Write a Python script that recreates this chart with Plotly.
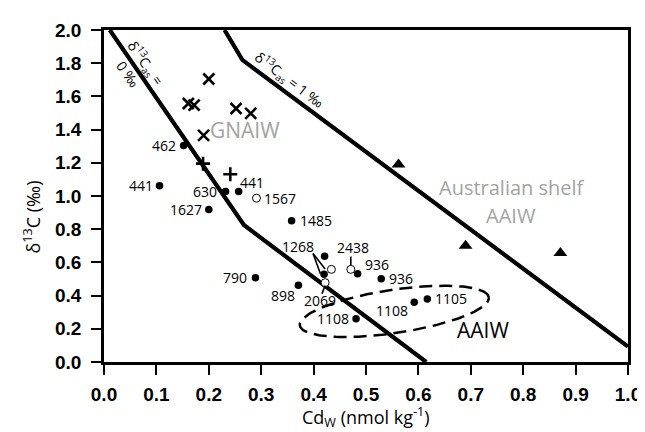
import numpy as np
import plotly.graph_objects as go

# ---------------- data ----------------
filled_x = [0.152, 0.106, 0.232, 0.257, 0.200, 0.358, 0.289, 0.421, 0.420, 0.371, 0.484, 0.529, 0.592, 0.617, 0.481]
filled_y = [1.304, 1.062, 1.027, 1.027, 0.918, 0.851, 0.508, 0.637, 0.528, 0.463, 0.532, 0.502, 0.360, 0.380, 0.261]
filled_labels = ["462", "441", "630", "441", "1627", "1485", "790", "1268", "", "898", "936", "936", "1108", "1105", "1108"]

open_x = [0.291, 0.434, 0.422, 0.471]
open_y = [0.987, 0.558, 0.478, 0.558]
open_labels = ["1567", "", "2069", "2438"]

cross_x = [0.200, 0.161, 0.172, 0.252, 0.280, 0.190]
cross_y = [1.705, 1.557, 1.547, 1.527, 1.498, 1.365]

plus_x = [0.189, 0.241]
plus_y = [1.195, 1.131]

tri_x = [0.562, 0.690, 0.871]
tri_y = [1.190, 0.700, 0.657]

line0_x = [0.011, 0.267, 0.615]   # d13Cas = 0 permil
line0_y = [2.0, 0.825, 0.0]
line1_x = [0.230, 0.264, 1.0]     # d13Cas = 1 permil
line1_y = [2.0, 1.82, 0.093]

x_ticks = [round(0.1 * i, 1) for i in range(11)]
y_ticks = [round(0.2 * i, 1) for i in range(11)]

# ---------------- label placement (anchor, shifts in px) ----------------
filled_place = [("right", "middle", -6, 0), ("right", "middle", -5, 0), ("right", "middle", -7, 0),
                ("left", "middle", -1, 9), ("right", "middle", -5, 0), ("left", "middle", 6, 0),
                ("right", "middle", -6, 0), ("center", "middle", -27, 10), None,
                ("right", "middle", -1, -10), ("left", "middle", 5, 9), ("left", "middle", 6, 0),
                ("right", "middle", -4, -8), ("left", "middle", 6, 0), ("right", "middle", -5, 0)]
open_place = [("left", "middle", 6, 0), None, ("center", "middle", -5, -18), ("center", "middle", 2, 22)]

# leader lines (x0, y0, x1, y1)
leaders = [(0.399, 0.653, 0.422, 0.560), (0.399, 0.653, 0.413, 0.532),
           (0.471, 0.636, 0.471, 0.584), (0.422, 0.461, 0.416, 0.412)]

# AAIW dashed ellipse (centre in data units, semi-axes in px, tilt deg)
ell_cx, ell_cy, ell_a, ell_b, ell_ang = 0.554, 0.305, 97, 22, 8.5

W, H = 645, 432
ML, MR, MT, MB = 96, 17, 17, 78
PW, PH = W - ML - MR, H - MT - MB

TXT = "Open Sans"
fig = go.Figure()

fig.add_trace(go.Scatter(x=line0_x, y=line0_y, mode="lines", line=dict(color="black", width=4.2), hoverinfo="skip"))
fig.add_trace(go.Scatter(x=line1_x, y=line1_y, mode="lines", line=dict(color="black", width=4.2), hoverinfo="skip"))

# ellipse
t = np.linspace(0, 2 * np.pi, 200)
th = np.deg2rad(ell_ang)
px = ell_a * np.cos(t) * np.cos(th) - ell_b * np.sin(t) * np.sin(th)
py = ell_a * np.cos(t) * np.sin(th) + ell_b * np.sin(t) * np.cos(th)
fig.add_trace(go.Scatter(x=ell_cx + px / PW, y=ell_cy + py / (PH / 2.0), mode="lines",
                         line=dict(color="black", width=2.5, dash="13px,7px"), hoverinfo="skip"))

fig.add_trace(go.Scatter(x=cross_x, y=cross_y, mode="markers",
                         marker=dict(symbol="x-thin", size=11, line=dict(color="black", width=2.6))))
fig.add_trace(go.Scatter(x=plus_x, y=plus_y, mode="markers",
                         marker=dict(symbol="cross-thin", size=10, line=dict(color="black", width=2.6))))
fig.add_trace(go.Scatter(x=tri_x, y=tri_y, mode="markers",
                         marker=dict(symbol="triangle-up", size=12, color="black")))
fig.add_trace(go.Scatter(x=filled_x, y=filled_y, mode="markers",
                         marker=dict(symbol="circle", size=7.5, color="black")))
fig.add_trace(go.Scatter(x=open_x, y=open_y, mode="markers",
                         marker=dict(symbol="circle", size=8, color="white", line=dict(color="black", width=1))))

ann = []
for xs, ys, labs, places in [(filled_x, filled_y, filled_labels, filled_place),
                             (open_x, open_y, open_labels, open_place)]:
    for x, y, lab, pl in zip(xs, ys, labs, places):
        if not lab or pl is None:
            continue
        xa, ya, dx, dy = pl
        ann.append(dict(x=x, y=y, text=lab, showarrow=False, xanchor=xa, yanchor=ya,
                        xshift=dx, yshift=dy, font=dict(family=TXT, size=14, color="black")))

shapes = []
for x0, y0, x1, y1 in leaders:
    shapes.append(dict(type="line", x0=x0, y0=y0, x1=x1, y1=y1, xref="x", yref="y",
                       line=dict(color="black", width=1.6)))

# region texts
ann += [
    dict(x=0.270, y=1.40, text="GNAIW", showarrow=False, font=dict(family=TXT, size=21, color="#a3a3a3")),
    dict(x=0.778, y=1.049, text="Australian shelf", showarrow=False, font=dict(family=TXT, size=20, color="#a3a3a3")),
    dict(x=0.777, y=0.884, text="AAIW", showarrow=False, font=dict(family=TXT, size=20, color="#a3a3a3")),
    dict(x=0.724, y=0.19, text="AAIW", showarrow=False, font=dict(family=TXT, size=21, color="black")),
    dict(x=0.078, y=1.80, text="δ<sup>13</sup>C<sub>as</sub> =", showarrow=False, textangle=55,
         font=dict(family=TXT, size=14, color="black")),
    dict(x=0.045, y=1.736, text="0 ‰", showarrow=False, textangle=55,
         font=dict(family=TXT, size=14, color="black")),
    dict(x=0.353, y=1.697, text="δ<sup>13</sup>C<sub>as</sub> = 1 ‰", showarrow=False, textangle=37,
         font=dict(family=TXT, size=14, color="black")),
    # axis titles
    dict(x=0.5, y=-0.165, xref="paper", yref="paper", xanchor="center", yanchor="middle",
         text="Cd<sub>W</sub> (nmol kg<sup>-1</sup>)",
         showarrow=False, font=dict(family=TXT, size=18, color="black")),
    dict(x=-0.137, y=0.436, xref="paper", yref="paper", xanchor="center", yanchor="middle",
         text="δ<sup>13</sup>C (‰)", textangle=-90,
         showarrow=False, font=dict(family=TXT, size=18, color="black")),
]

tickfont = dict(family="Liberation Sans, Arial", size=19, color="black", weight="bold")
fig.update_layout(
    width=W, height=H, margin=dict(l=ML, r=MR, t=MT, b=MB),
    paper_bgcolor="white", plot_bgcolor="white", showlegend=False,
    annotations=ann, shapes=shapes,
    xaxis=dict(range=[0, 1], tickvals=x_ticks, ticktext=[f"{v:.1f}" for v in x_ticks],
               showgrid=False, zeroline=False, showline=True, linecolor="black", linewidth=2.5,
               mirror=True, ticks="outside", ticklen=10, tickwidth=2, tickcolor="black", tickfont=tickfont,
               ticklabelstandoff=3),
    yaxis=dict(range=[0, 2], tickvals=y_ticks, ticktext=[f"{v:.1f}" for v in y_ticks],
               showgrid=False, zeroline=False, showline=True, linecolor="black", linewidth=2.5,
               mirror=True, ticks="outside", ticklen=10, tickwidth=2, tickcolor="black", tickfont=tickfont,
               ticklabelstandoff=6),
)

fig.write_html("out.html")
